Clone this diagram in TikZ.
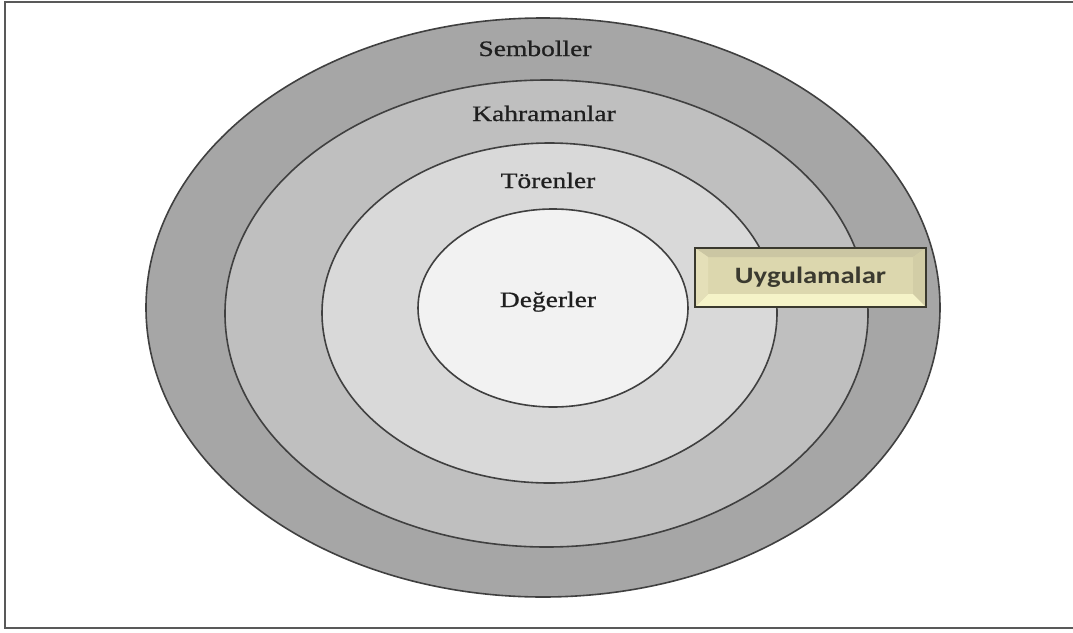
\documentclass[tikz,border=0pt]{standalone}
\usepackage{fontspec}
\usepackage{graphicx}
\usetikzlibrary{shapes.geometric,calc}
\setmainfont{Liberation Serif}[FakeStretch=1.25,FakeBold=0.8]
\newfontfamily\boxfont{Carlito}[FakeStretch=1.22]
\definecolor{ringA}{HTML}{A6A6A6}
\definecolor{ringB}{HTML}{BFBFBF}
\definecolor{ringC}{HTML}{D9D9D9}
\definecolor{ringD}{HTML}{F2F2F2}
\definecolor{ringline}{HTML}{404040}
\definecolor{frameline}{HTML}{595959}
\definecolor{boxmid}{HTML}{DCD7AE}
\definecolor{boxtop}{HTML}{CBC6A3}
\definecolor{boxbot}{HTML}{F5F3C8}
\definecolor{boxleft}{HTML}{E4DFB8}
\definecolor{boxright}{HTML}{D2CDA6}
\definecolor{boxedge}{HTML}{3A392E}
\definecolor{boxtext}{HTML}{3B3A30}
\definecolor{labeltext}{HTML}{1F1F1F}
\tikzset{
  ring/.style={ellipse, draw=ringline, line width=1.6pt, inner sep=0pt},
  ringlabel/.style={font=\fontsize{22}{24}\selectfont, text=labeltext, inner sep=0pt, anchor=base},
  uyg/.style={rectangle, draw=boxedge, line width=2.6pt, fill=boxmid, inner sep=0pt,
    minimum width=231pt, minimum height=59pt,
    font=\boxfont\bfseries\fontsize{23.5}{25}\selectfont, text=boxtext,
    path picture={
      \fill[boxbot] (path picture bounding box.south west) -- (path picture bounding box.south east)
        -- ([xshift=-13pt,yshift=13pt]path picture bounding box.south east)
        -- ([xshift=13pt,yshift=13pt]path picture bounding box.south west) -- cycle;
      \fill[boxtop] (path picture bounding box.north west) -- (path picture bounding box.north east)
        -- ([xshift=-13pt,yshift=-9pt]path picture bounding box.north east)
        -- ([xshift=13pt,yshift=-9pt]path picture bounding box.north west) -- cycle;
      \fill[boxleft] (path picture bounding box.north west) -- (path picture bounding box.south west)
        -- ([xshift=13pt,yshift=13pt]path picture bounding box.south west)
        -- ([xshift=13pt,yshift=-9pt]path picture bounding box.north west) -- cycle;
      \fill[boxright] (path picture bounding box.north east) -- (path picture bounding box.south east)
        -- ([xshift=-13pt,yshift=13pt]path picture bounding box.south east)
        -- ([xshift=-13pt,yshift=-9pt]path picture bounding box.north east) -- cycle;
    }},
  framestyle/.style={draw=frameline, line width=2pt}
}
\begin{document}
\begin{tikzpicture}[x=1pt,y=-1pt]
\useasboundingbox (0,0) rectangle (1073,632);
\fill[white] (0,0) rectangle (1073,632);
% frame (left, top, bottom)
\coordinate (ftr) at (1073,1.5);
\coordinate (ftl) at (5,1.5);
\coordinate (fbl) at (5,628);
\coordinate (fbr) at (1073,628);
\draw[framestyle] (ftr) -- (ftl) -- (fbl) -- (fbr);
% rings
\node[ring, fill=ringA, minimum width=794pt, minimum height=579pt] (semb) at (543,307.5) {};
\node[ring, fill=ringB, minimum width=643pt, minimum height=467pt] (kahr) at (546.5,313.5) {};
\node[ring, fill=ringC, minimum width=455pt, minimum height=340pt] (tore) at (549.5,313) {};
\node[ring, fill=ringD, minimum width=270pt, minimum height=198pt] (dege) at (553,308) {};
% labels
\node[ringlabel] (lsemb) at (535,56) {Semboller};
\node[ringlabel] (lkahr) at (544,121) {Kahramanlar};
\node[ringlabel] (ltore) at (548,188) {Törenler};
\node[ringlabel] (ldege) at (548,307) {Değerler};
% practices box
\node[uyg] (uygu) at (810.5,277.5) {Uygulamalar};
\end{tikzpicture}
\end{document}
